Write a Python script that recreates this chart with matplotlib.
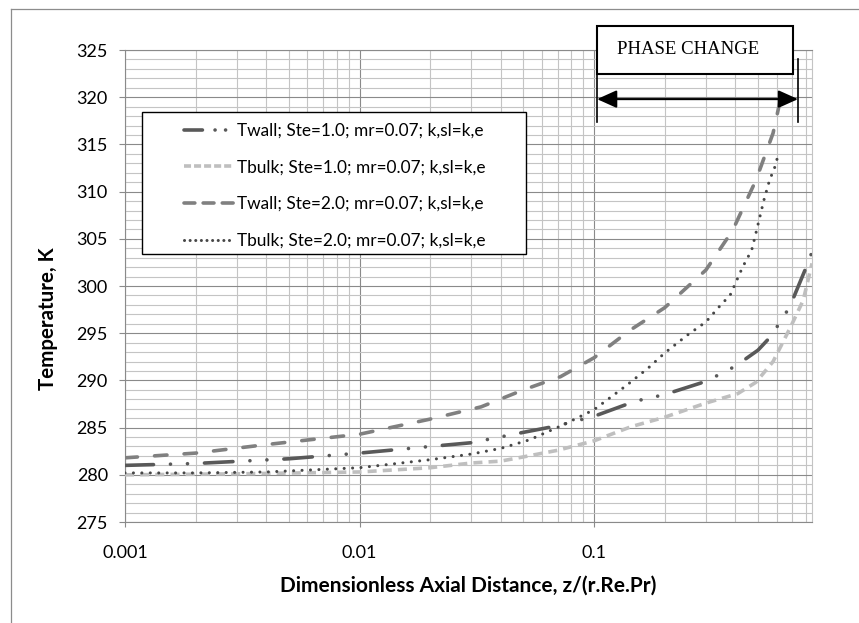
import matplotlib
matplotlib.use('Agg')
import matplotlib.pyplot as plt
from matplotlib.patches import Rectangle
from matplotlib.lines import Line2D

plt.rcParams['font.family'] = ['Lato', 'DejaVu Sans']

# curves (x = z/(r.Re.Pr), y = temperature in K)
twall_1_x = [0.001, 0.002, 0.005, 0.01, 0.02, 0.03, 0.05, 0.07, 0.1, 0.15, 0.2, 0.3, 0.4, 0.5, 0.55, 0.6, 0.66, 0.71, 0.8, 0.85]
twall_1_y = [281.0, 281.2, 281.7, 282.3, 283.0, 283.4, 284.5, 285.2, 286.2, 287.8, 288.5, 289.9, 291.5, 293.2, 294.3, 295.6, 297.2, 298.8, 301.9, 303.6]

tbulk_1_x = [0.001, 0.003, 0.01, 0.02, 0.03, 0.04, 0.05, 0.07, 0.1, 0.144, 0.2, 0.3, 0.41, 0.49, 0.58, 0.69, 0.78, 0.85]
tbulk_1_y = [280.0, 280.1, 280.3, 280.75, 281.25, 281.45, 281.9, 282.6, 283.6, 285.1, 286.1, 287.6, 288.6, 289.8, 292.0, 295.7, 298.5, 302.4]

twall_2_x = [0.001, 0.002, 0.004, 0.01, 0.02, 0.033, 0.05, 0.072, 0.1, 0.142, 0.2, 0.3, 0.39, 0.49, 0.58, 0.62]
twall_2_y = [281.8, 282.3, 283.2, 284.3, 285.9, 287.2, 289.0, 290.4, 292.4, 295.3, 297.7, 301.7, 305.9, 311.2, 316.2, 319.5]

tbulk_2_x = [0.001, 0.002, 0.004, 0.01, 0.02, 0.03, 0.04, 0.053, 0.074, 0.1, 0.138, 0.17, 0.2, 0.25, 0.3,
             0.35, 0.38, 0.43, 0.47, 0.49, 0.53, 0.56, 0.59, 0.61]
tbulk_2_y = [280.2, 280.2, 280.3, 280.75, 281.6, 282.2, 282.8, 283.7, 285.3, 286.9, 289.5, 291.3, 292.9, 294.8, 296.2,
             298.1, 299.0, 302.0, 303.8, 305.6, 309.1, 311.2, 312.6, 313.9]

labels = ['Twall; Ste=1.0; mr=0.07; k,sl=k,e',
          'Tbulk; Ste=1.0; mr=0.07; k,sl=k,e',
          'Twall; Ste=2.0; mr=0.07; k,sl=k,e',
          'Tbulk; Ste=2.0; mr=0.07; k,sl=k,e']

# phase change annotation (data coords)
phase_x0, phase_x1, phase_xarrow = 0.103, 0.706, 0.741
phase_box_y0, phase_box_y1 = 322.5, 327.5
phase_arrow_y = 319.8
phase_line_bottom, phase_right_top = 317.4, 324.0

# styles: (colour, width, capstyle, dash pattern on the curve, dash pattern in the legend)
styles = [
    ('#595959', 2.6, 'round', (7.9, 4.7, 0.01, 4.7, 0.01, 4.7), (5.1, 3.5, 0.01, 2.9, 0.01, 3.5)),
    ('#bfbfbf', 2.6, 'butt', (2.5, 1.7), (1.95, 0.83)),
    ('#808080', 2.6, 'round', (3.45, 4.75), (3.0, 2.3)),
    ('#474747', 2.2, 'round', (0.01, 2.75), (0.01, 1.83)),
]

fig = plt.figure(figsize=(8.59, 6.23), dpi=100)
ax = fig.add_axes([0.1455, 0.1621, 0.7998, 0.7576])

ax.set_xscale('log')
ax.set_xlim(0.001, 0.85)
ax.set_ylim(275, 325)

# grid
ax.set_yticks(range(275, 326, 5))
ax.set_yticks(range(275, 326, 1), minor=True)
ax.grid(which='major', color='#8a8a8a', lw=0.8)
ax.grid(which='minor', color='#c4c4c4', lw=0.8)
ax.set_axisbelow(True)

for s in ['left', 'bottom', 'top']:
    ax.spines[s].set_color('#8a8a8a')
ax.spines['right'].set_color('#c4c4c4')
for s in ax.spines.values():
    s.set_linewidth(0.8)

ax.tick_params(axis='y', which='major', length=4.3, width=0.8, color='#8a8a8a', pad=8, labelsize=13)
ax.tick_params(axis='y', which='minor', length=0)
ax.tick_params(axis='x', which='major', length=3.5, width=0.8, color='#8a8a8a', pad=13, labelsize=13)
ax.tick_params(axis='x', which='minor', length=0)
ax.set_xticks([0.001, 0.01, 0.1])
ax.set_xticklabels(['0.001', '0.01', '0.1'])

# curves
series = [(twall_1_x, twall_1_y), (tbulk_1_x, tbulk_1_y), (twall_2_x, twall_2_y), (tbulk_2_x, tbulk_2_y)]
zorders = [4, 3, 3, 4]
handles = []
for (xs, ys), (c, lw, cap, dash, leg_dash), z in zip(series, styles, zorders):
    ax.plot(xs, ys, color=c, lw=lw, dash_capstyle=cap, linestyle=(0, dash), zorder=z)
    handles.append(Line2D([], [], color=c, lw=lw, dash_capstyle=cap, linestyle=(0, leg_dash)))

# legend frame + legend
ax.add_patch(Rectangle((0.0243, 0.5678), 0.5594, 0.3008, transform=ax.transAxes,
                       facecolor='white', edgecolor='black', lw=1.0, zorder=5))
leg = ax.legend(handles, labels, loc='upper left', bbox_to_anchor=(0.0859, 0.8462), frameon=False,
                borderpad=0, borderaxespad=0, handlelength=2.9, handletextpad=0.18,
                labelspacing=1.2, fontsize=12.4)
leg.set_zorder(6)

ax.set_xlabel('Dimensionless Axial Distance, z/(r.Re.Pr)', fontsize=15, fontweight='bold')
ax.set_ylabel('Temperature, K', fontsize=14.8, fontweight='bold')
ax.xaxis.set_label_coords(0.5, -0.114)
ax.yaxis.set_label_coords(-0.0975, 0.43)

# phase change box and arrow
ax.add_patch(Rectangle((phase_x0, phase_box_y0), phase_x1 - phase_x0, phase_box_y1 - phase_box_y0,
                       facecolor='white', edgecolor='black', lw=1.5, clip_on=False, zorder=7))
ax.text(0.1255, (phase_box_y0 + phase_box_y1) / 2 + 0.05, 'PHASE CHANGE', family='Liberation Serif',
        fontsize=13.5, va='center', ha='left', zorder=8)
ax.plot([phase_x0, phase_x0], [phase_line_bottom, phase_box_y0], color='black', lw=1.2, clip_on=False, zorder=7)
ax.plot([phase_xarrow, phase_xarrow], [phase_line_bottom, phase_right_top], color='black', lw=1.2,
        clip_on=False, zorder=7)
ax.annotate('', xy=(phase_xarrow, phase_arrow_y), xytext=(phase_x0, phase_arrow_y),
            arrowprops=dict(arrowstyle='<|-|>,head_length=0.6,head_width=0.27', mutation_scale=20,
                            color='black', lw=1.5, shrinkA=0, shrinkB=0), zorder=7)

# outer chart border (only top and left visible)
fig.add_artist(Line2D([11 / 859, 1], [1 - 9 / 623, 1 - 9 / 623], color='#8c8c8c', lw=0.9))
fig.add_artist(Line2D([11 / 859, 11 / 859], [0, 1 - 9 / 623], color='#8c8c8c', lw=0.9))

fig.savefig('out.png', dpi=100)
